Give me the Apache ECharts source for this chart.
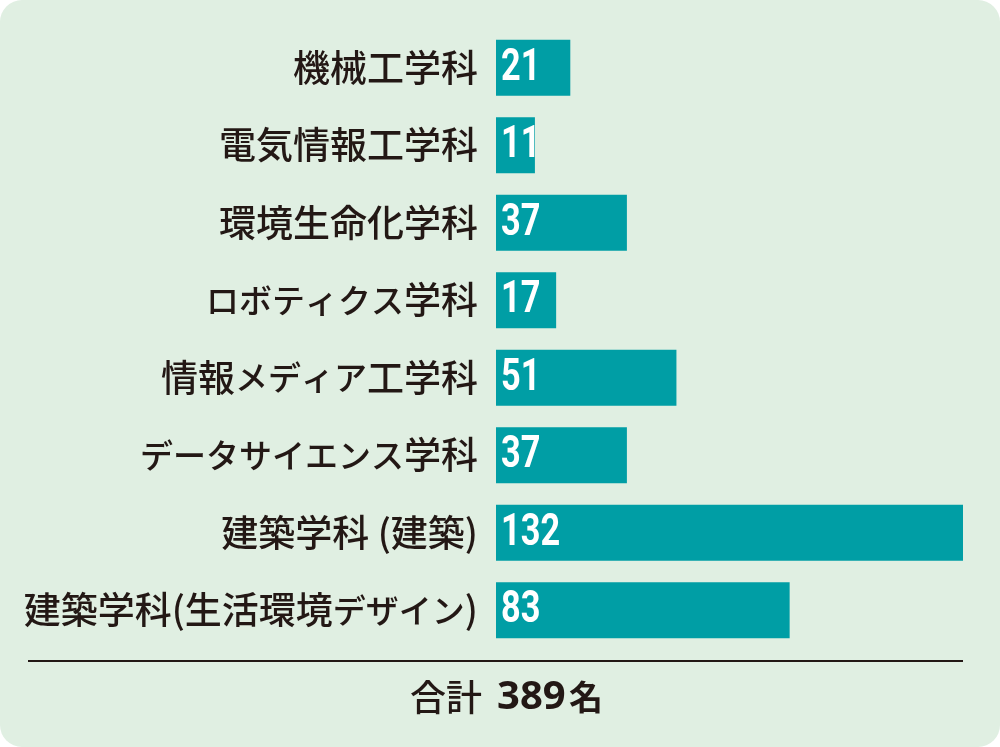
<!DOCTYPE html>
<html>
<head>
<meta charset="utf-8">
<script src="https://cdn.jsdelivr.net/npm/echarts@6/dist/echarts.min.js"></script>
<style>
html,body{margin:0;padding:0;background:#ffffff;}
#chart{width:1000px;height:747px;background:#e0efe2;border-radius:22px;overflow:hidden;}
</style>
</head>
<body>
<div id="chart"></div>
<script>
const categories = ['機械工学科','電気情報工学科','環境生命化学科','ロボティクス学科','情報メディア工学科','データサイエンス学科','建築学科 (建築)','建築学科(生活環境デザイン)'];
const values = [21, 11, 37, 17, 51, 37, 132, 83];
const totalLabel = '合計';
const totalValue = 389;
const totalUnit = '名';

const chart = echarts.init(document.getElementById('chart'), null, {renderer:'canvas'});
const cjk = "'Noto Sans CJK JP', sans-serif";
const digitFont = "Roboto, 'Noto Sans', sans-serif";

chart.setOption({
  backgroundColor: 'transparent',
  animation: false,
  grid: { left: 496, right: 37, top: 29, bottom: 98 },
  xAxis: { type: 'value', min: 0, max: 132, show: false },
  yAxis: {
    type: 'category', inverse: true, data: categories,
    axisLine: { show: false }, axisTick: { show: false }, splitLine: { show: false },
    axisLabel: {
      margin: 18, color: '#231815', fontSize: 37, fontWeight: 500, fontFamily: cjk,
      formatter: function (v) { return v.replace(/([\u30A0-\u30FF]+)/g, '{k|$1}'); },
      rich: { k: { fontSize: 33, fontWeight: 500, fontFamily: cjk, color: '#231815' } }
    }
  },
  series: [{
    type: 'bar', data: values, barWidth: 56,
    itemStyle: { color: '#009ea5' }
  }, {
    type: 'custom',
    data: values.map((v, i) => [v, i]),
    encode: { x: 0, y: 1 },
    z: 5,
    renderItem: function (params, api) {
      const p = api.coord([0, api.value(1)]);
      return {
        type: 'text', x: p[0] + 5, y: p[1] + 1, scaleX: 0.78,
        style: {
          text: String(api.value(0)), fill: '#ffffff',
          fontSize: 44, fontWeight: 'bold', fontFamily: digitFont,
          align: 'left', verticalAlign: 'middle'
        }
      };
    }
  }],
  graphic: [
    { type: 'line', shape: { x1: 28, y1: 661, x2: 963, y2: 661 }, style: { stroke: '#231815', lineWidth: 2 } },
    {
      type: 'text', x: 482, y: 697,
      style: { text: totalLabel, align: 'right', verticalAlign: 'middle', fontSize: 36, fontWeight: 500, fontFamily: cjk, fill: '#231815' }
    },
    {
      type: 'text', x: 497, y: 698,
      style: { text: String(totalValue), align: 'left', verticalAlign: 'middle', fontSize: 40, fontWeight: 'bold', fontFamily: "'Noto Sans', sans-serif", fill: '#231815' }
    },
    {
      type: 'text', x: 569, y: 697,
      style: { text: totalUnit, align: 'left', verticalAlign: 'middle', fontSize: 34, fontWeight: 'bold', fontFamily: cjk, fill: '#231815' }
    }
  ]
});
</script>
</body>
</html>
